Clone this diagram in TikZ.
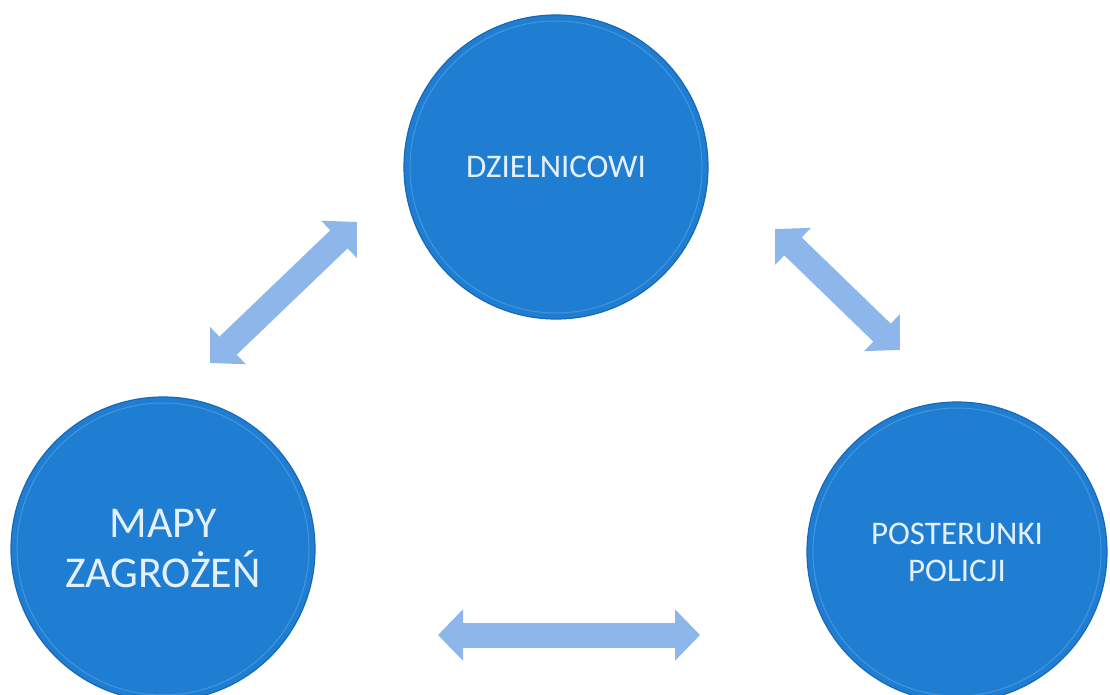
\documentclass[tikz,border=0pt]{standalone}
\usepackage{fontspec}
\setmainfont{Carlito}
\usetikzlibrary{arrows.meta}
\definecolor{discblue}{RGB}{31,126,210}
\definecolor{discrim}{RGB}{24,104,184}
\definecolor{discshine}{RGB}{92,165,230}
\definecolor{arrowblue}{RGB}{141,182,234}
\definecolor{textwhite}{RGB}{228,240,252}
\tikzset{
  disc/.style={circle, fill=discblue, draw=discrim, line width=1.2pt, text=textwhite, align=center, inner sep=0pt},
  dblarrow/.style={draw=arrowblue, line width=25pt,
    {Triangle[width=50pt,length=25pt]}-{Triangle[width=50pt,length=25pt]}}
}
\begin{document}
\begin{tikzpicture}[x=1pt,y=-1pt]
\useasboundingbox (0,0) rectangle (1110,695);
\clip (0,0) rectangle (1110,695);
\fill[white] (0,0) rectangle (1110,695);
% discs
\node[disc, minimum size=304pt, font=\fontsize{33}{37}\selectfont] (dz) at (556,167) {DZIELNICOWI};
\node[disc, minimum size=304pt, font=\fontsize{44}{50}\selectfont] (mapy) at (163,549) {MAPY\\ZAGROŻEŃ};
\node[disc, minimum size=300pt, font=\fontsize{33}{37}\selectfont] (post) at (957,552) {POSTERUNKI\\POLICJI};
% inner shine rings
\foreach \n/\r in {dz/146, mapy/146, post/144}{
  \draw[discshine, line width=1pt, opacity=0.6] (\n.center) circle[radius=\r];
}
% arrow end points
\coordinate (a1s) at (210,363);
\coordinate (a1e) at (357,222);
\coordinate (a2s) at (775,229);
\coordinate (a2e) at (900,350);
\coordinate (a3s) at (438,635);
\coordinate (a3e) at (700,635);
\draw[dblarrow] (a1s) -- (a1e);
\draw[dblarrow] (a2s) -- (a2e);
\draw[dblarrow] (a3s) -- (a3e);
\end{tikzpicture}
\end{document}
